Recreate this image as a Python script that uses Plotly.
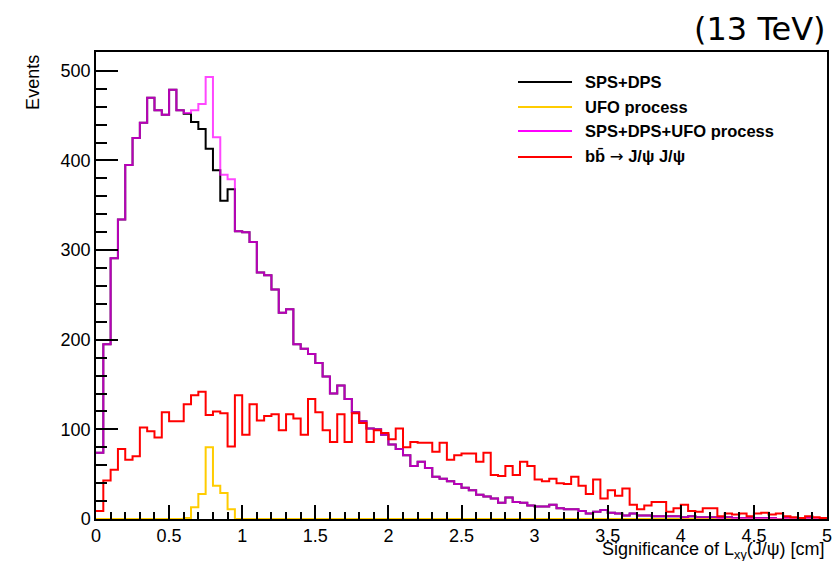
import plotly.graph_objects as go

# Binning of the L_xy significance histograms: 100 bins over [0, 5]
x_lo = 0.0
bin_width = 0.05
n_bins = 100

# SPS+DPS (black)
sps_dps = [
    74, 195, 291, 334, 395, 425, 442, 470, 456, 451,
    479, 456, 452, 443, 435, 413, 389, 355, 368, 321,
    320, 309, 275, 272, 256, 230, 234, 195, 190, 184,
    174, 159, 140, 149, 134, 119, 109, 101, 100, 94,
    83, 78, 71, 59, 64, 57, 47, 45, 42, 39,
    35, 32, 27, 25, 23, 18, 24, 19, 18, 15,
    14, 14, 16, 12, 11, 11, 9, 6, 8, 10,
    7, 6, 4, 6, 4, 4, 3, 3, 3, 3,
    2, 3, 2, 2, 2, 1, 2, 1, 1, 1,
    1, 1, 1, 0, 1, 1, 0, 1, 0, 1,
]

# UFO process (yellow)
ufo = [0] * 12 + [1, 13, 28, 80, 37, 29, 11] + [0] * 81

# SPS+DPS+UFO process (magenta)
sps_dps_ufo = [
    74, 195, 291, 334, 395, 425, 442, 470, 456, 451,
    479, 456, 453, 456, 463, 493, 426, 384, 379, 321,
    320, 309, 275, 272, 256, 230, 234, 195, 190, 184,
    174, 159, 140, 149, 134, 119, 109, 101, 100, 94,
    83, 78, 71, 59, 64, 57, 47, 45, 42, 39,
    35, 32, 27, 25, 23, 18, 24, 19, 18, 15,
    14, 14, 16, 12, 11, 11, 9, 6, 8, 10,
    7, 6, 4, 6, 4, 4, 3, 3, 3, 3,
    2, 3, 2, 2, 2, 1, 2, 1, 1, 1,
    1, 1, 1, 0, 1, 1, 0, 1, 0, 1,
]

# bb -> J/psi J/psi (red)
bb_jpsi = [
    9, 43, 55, 78, 66, 70, 102, 98, 91, 119,
    109, 109, 128, 138, 142, 116, 120, 118, 81, 138,
    94, 128, 110, 115, 117, 99, 117, 112, 94, 134,
    119, 99, 86, 117, 86, 118, 107, 86, 99, 96,
    89, 101, 80, 86, 85, 85, 75, 85, 66, 71,
    73, 73, 64, 74, 49, 48, 59, 49, 64, 59,
    44, 42, 45, 40, 39, 47, 37, 28, 44, 23,
    32, 26, 34, 16, 11, 15, 19, 19, 8, 12,
    16, 9, 8, 12, 12, 3, 6, 5, 6, 3,
    6, 7, 5, 6, 3, 2, 1, 3, 2, 1,
]

arrow = ('<span style="font-family:DejaVu Sans;font-weight:normal">'
         '\u2192</span>')
legend_labels = ["SPS+DPS", "UFO process", "SPS+DPS+UFO process",
                 "bb\u0304 " + arrow + " J/\u03c8 J/\u03c8"]

series = [
    ("SPS+DPS", sps_dps, "#000000"),
    ("UFO process", ufo, "#ffcc00"),
    ("SPS+DPS+UFO process", sps_dps_ufo, "rgba(255,0,255,0.72)"),
    ("bb -> J/psi J/psi", bb_jpsi, "#ff0000"),
]
line_colors = ["#000000", "#ffcc00", "#ff00ff", "#ff0000"]

edges = [x_lo + bin_width * i for i in range(n_bins + 1)]

fig = go.Figure()
for name, vals, color in series:
    fig.add_trace(go.Scatter(
        x=edges, y=list(vals) + [vals[-1]],
        mode="lines", line=dict(color=color, width=2, shape="hv"),
        name=name, showlegend=False, hoverinfo="skip",
    ))

font_main = "Liberation Sans, Arial, Helvetica, sans-serif"

fig.update_layout(
    width=833, height=561,
    margin=dict(l=96, r=6, t=52, b=42, autoexpand=False),
    paper_bgcolor="white", plot_bgcolor="white",
    font=dict(family=font_main, size=18, color="black"),
    xaxis=dict(
        range=[0, 5], dtick=0.5, tick0=0, ticks="inside", ticklen=14,
        tickwidth=1.5, tickcolor="black", showline=True, linecolor="black",
        linewidth=1.5, mirror=True, showgrid=False, zeroline=False,
        automargin=False, tickfont=dict(size=18),
        minor=dict(dtick=0.1, ticks="inside", ticklen=7, tickwidth=1.5,
                   tickcolor="black", showgrid=False),
    ),
    yaxis=dict(
        range=[0, 521], dtick=100, tick0=0, ticks="inside", ticklen=22,
        tickwidth=1.5, tickcolor="black", showline=True, linecolor="black",
        linewidth=1.5, mirror=True, showgrid=False, zeroline=False,
        automargin=False, tickfont=dict(size=18),
        minor=dict(dtick=20, ticks="inside", ticklen=11, tickwidth=1.5,
                   tickcolor="black", showgrid=False),
    ),
)

# Axis titles placed at the axis ends
fig.add_annotation(
    text="Significance of L<sub>xy</sub>(J/\u03c8) [cm]",
    xref="paper", yref="paper", x=1.0, y=-0.038,
    xanchor="right", yanchor="top", showarrow=False,
    font=dict(size=18),
)
fig.add_annotation(
    text="Events", textangle=-90,
    xref="paper", yref="paper", x=-0.0862, y=0.936,
    xanchor="center", yanchor="middle", showarrow=False,
    font=dict(size=18),
)
fig.add_annotation(
    text="(13 TeV)", xref="paper", yref="paper", x=1.0014, y=1.049,
    xanchor="right", yanchor="middle", showarrow=False,
    font=dict(family="DejaVu Sans, sans-serif", size=32),
)

# Legend entries
legend_rows = [0.9358, 0.8822, 0.8308, 0.7752]
for label, color, yy in zip(legend_labels, line_colors, legend_rows):
    fig.add_shape(type="line", xref="paper", yref="paper",
                  x0=0.5773, x1=0.6512, y0=yy, y1=yy,
                  line=dict(color=color, width=2))
    fig.add_annotation(text=label, xref="paper", yref="paper",
                       x=0.6662, y=yy, xanchor="left", yanchor="middle",
                       showarrow=False,
                       font=dict(size=16.5, weight="bold"))

fig.write_html("out.html")
